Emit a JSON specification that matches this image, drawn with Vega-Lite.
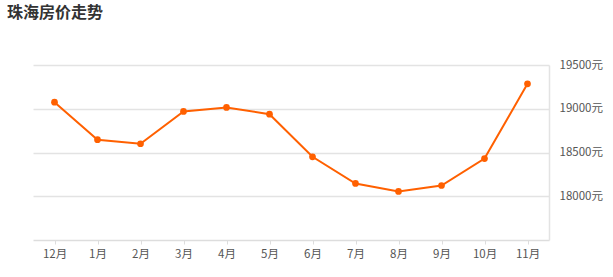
{
  "$schema": "https://vega.github.io/schema/vega-lite/v6.json",
  "autosize": {"type": "none"},
  "width": 516,
  "height": 175,
  "padding": {"left": 33, "top": 65, "right": 64, "bottom": 37},
  "background": "#ffffff",
  "config": {
    "view": {"stroke": null},
    "font": "Noto Sans CJK SC"
  },
  "title": {
    "text": "珠海房价走势",
    "anchor": "start",
    "frame": "group",
    "orient": "top",
    "dx": -26,
    "offset": 38,
    "fontSize": 16,
    "fontWeight": "bold",
    "color": "#333333",
    "font": "Noto Sans CJK SC"
  },
  "data": {
    "values": [
      {"month": "12月", "price": 19075},
      {"month": "1月", "price": 18646},
      {"month": "2月", "price": 18600},
      {"month": "3月", "price": 18969},
      {"month": "4月", "price": 19015},
      {"month": "5月", "price": 18938},
      {"month": "6月", "price": 18451},
      {"month": "7月", "price": 18146},
      {"month": "8月", "price": 18055},
      {"month": "9月", "price": 18123},
      {"month": "10月", "price": 18431},
      {"month": "11月", "price": 19285}
    ]
  },
  "encoding": {
    "x": {
      "field": "month",
      "type": "ordinal",
      "sort": null,
      "scale": {"type": "point", "padding": 0.5},
      "axis": {
        "title": null,
        "labelAngle": 0,
        "labelFontSize": 11.5,
        "labelColor": "#555555",
        "labelPadding": 4,
        "tickSize": 4,
        "tickColor": "#dddddd",
        "domainColor": "#dddddd",
        "domainWidth": 1.5,
        "grid": false
      }
    },
    "y": {
      "field": "price",
      "type": "quantitative",
      "scale": {"domain": [17500, 19500], "nice": false, "zero": false},
      "axis": {
        "orient": "right",
        "title": null,
        "values": [18000, 18500, 19000, 19500],
        "labelExpr": "datum.value + '元'",
        "labelFontSize": 11.5,
        "labelColor": "#555555",
        "labelPadding": 10,
        "ticks": false,
        "domainColor": "#e3e3e3",
        "domainWidth": 1.5,
        "grid": true,
        "gridColor": "#e3e3e3",
        "gridWidth": 1.5
      }
    }
  },
  "layer": [
    {"mark": {"type": "line", "color": "#ff6000", "strokeWidth": 2}},
    {"mark": {"type": "point", "filled": true, "color": "#ff6000", "opacity": 1, "size": 45}}
  ]
}
